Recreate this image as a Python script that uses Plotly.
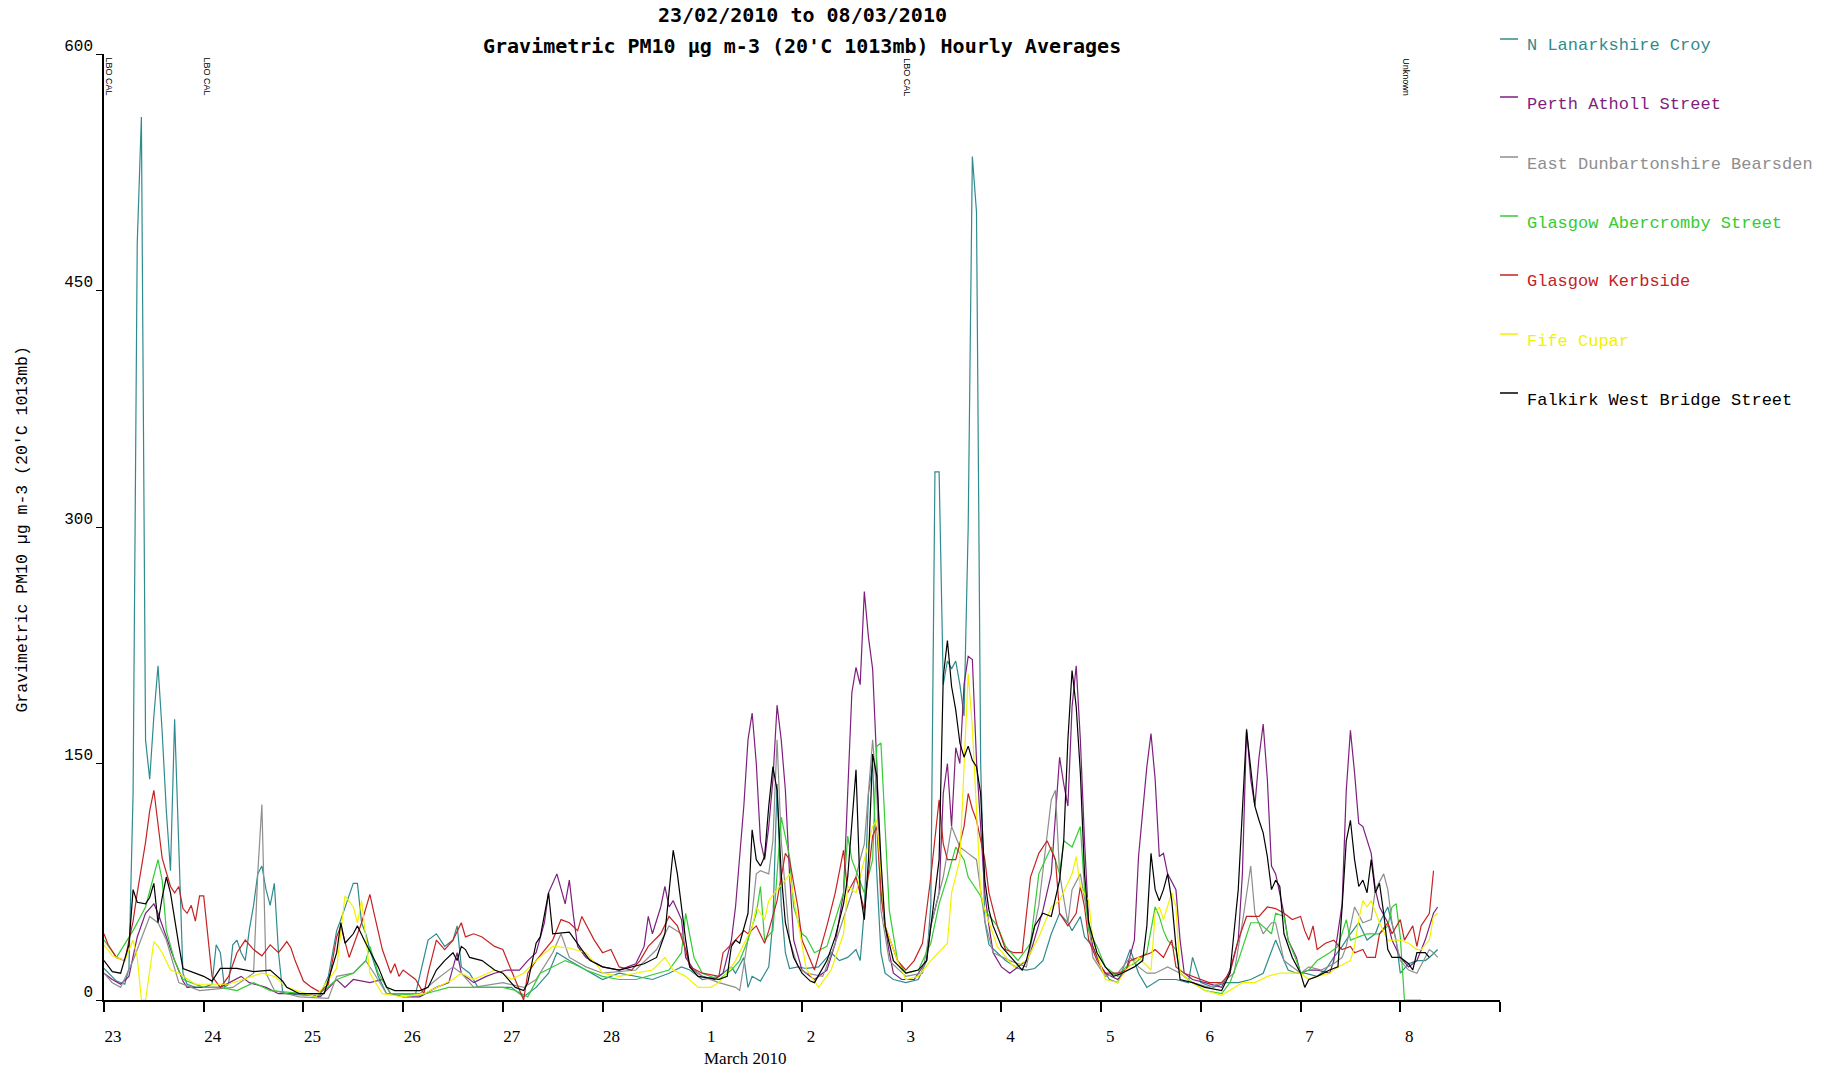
import plotly.graph_objects as go

# ---------------- data (hours since 23/02/2010 00:00, PM10 ug m-3) ----------------
tick_hours = [0, 24, 48, 72, 96, 120, 144, 168, 192, 216, 240, 264, 288, 312, 336]
tick_labels = ["23", "24", "25", "26", "27", "28", "1", "2", "3", "4", "5", "6", "7", "8", ""]
y_ticks = [0, 150, 300, 450, 600]

croy_h = [0,3,5,6,7,8,9,10,11,12,13,14,15,16,17,18,19,20,22,24,26,27,28,29,30,31,32,33,34,35,36,37,38,39,40,41,42,43,44,48,52,54,56,57,60,61,62,63,64,66,68,72,75,78,80,82,84,85,86,88,90,94,98,101,104,107,109,112,116,120,124,128,132,136,139,141,144,148,151,152,154,155,156,158,160,161,162,163,164,165,167,169,172,175,177,179,181,182,183,184,185,186,187,188,190,193,196,198,199,200,201,202,203,204,205,206,207,208,209,210,211,212,213,215,217,220,222,224,226,228,230,232,233,235,236,238,240,242,244,247,249,251,254,258,261,262,264,267,270,273,276,279,282,284,285,287,289,292,294,296,298,300,302,304,306,307,309,311,312,314,316,318,319,321]
croy_v = [20,12,10,20,131,480,560,165,140,180,212,170,120,82,178,100,17,10,8,8,10,35,30,8,10,35,38,30,25,45,60,80,85,70,60,74,30,5,4,3,3,15,44,51,74,74,49,42,32,15,4,4,4,38,42,34,38,47,21,17,8,8,8,2,8,17,30,25,19,13,17,15,13,17,21,19,13,15,21,17,27,8,15,12,21,50,137,60,30,20,21,20,21,30,25,27,32,25,57,131,150,80,30,17,13,11,13,25,60,335,335,200,215,210,215,200,180,300,535,500,150,50,35,30,25,20,19,20,25,42,55,49,44,53,40,34,21,13,11,32,17,8,13,13,11,27,11,8,11,11,13,17,38,25,19,17,17,15,19,27,34,42,49,38,42,49,59,38,17,23,25,25,27,32]

perth_h = [0,2,4,6,8,10,12,13,15,17,19,20,24,28,33,35,39,42,48,52,56,58,60,64,67,69,72,76,80,83,85,86,89,92,94,97,100,102,104,106,107,109,111,112,113,114,116,120,124,128,130,131,132,134,135,136,137,139,140,142,144,147,149,151,152,154,155,156,157,158,159,160,161,162,163,164,165,166,168,171,174,176,178,179,180,181,182,183,184,185,186,187,188,189,190,192,195,198,199,201,202,203,204,205,206,207,208,209,210,211,212,213,214,216,218,220,222,223,225,226,228,230,231,232,233,234,235,236,237,238,240,241,244,246,248,249,251,252,253,254,255,256,258,259,260,262,265,269,271,273,274,275,276,277,278,279,280,281,282,284,285,287,288,290,292,295,296,298,299,300,301,302,303,305,306,307,309,310,312,314,316,318,320,321]
perth_v = [17,13,10,15,40,55,61,55,40,25,12,8,8,8,15,11,8,4,4,2,13,8,13,11,13,4,2,2,8,11,30,17,11,15,17,19,19,25,30,49,68,80,61,76,53,34,27,21,19,23,34,53,42,59,72,59,63,51,27,19,15,13,17,38,59,123,165,182,150,101,89,110,140,187,165,133,80,38,19,13,19,36,68,131,195,211,200,259,230,210,150,68,47,30,17,13,13,25,47,68,131,150,110,160,150,200,218,216,152,110,68,47,30,21,17,21,25,30,47,57,80,154,137,123,186,212,165,101,49,34,21,17,13,19,38,91,148,169,140,91,93,80,70,38,17,13,11,8,19,38,80,172,140,123,154,175,140,85,80,55,38,27,17,19,19,17,25,61,133,171,144,112,110,93,70,59,49,38,27,21,25,38,55,59]

bears_h = [0,2,4,7,11,13,15,18,23,31,36,37,38,39,41,47,54,56,60,63,65,68,76,80,84,86,89,96,101,104,108,110,112,116,120,128,133,136,139,141,144,148,152,153,156,157,158,160,161,162,163,165,167,169,173,176,178,180,182,183,185,186,187,189,193,197,199,202,204,206,208,210,212,214,218,222,225,228,229,230,232,233,235,237,238,241,244,247,249,251,253,256,259,262,266,269,272,274,276,277,279,281,282,284,287,288,290,293,296,298,299,301,303,305,306,308,309,310,312,314,316,318,319,320,321]
bears_v = [17,11,8,25,53,49,38,11,6,8,17,80,124,17,6,2,1,15,17,25,17,4,4,13,21,17,8,11,8,13,30,42,27,21,17,19,32,47,42,21,15,11,8,6,55,80,82,80,101,165,101,38,21,17,15,36,52,68,89,99,165,131,57,25,15,17,47,78,110,97,93,89,50,30,25,21,60,127,133,80,49,70,80,49,27,15,17,27,21,17,17,21,17,11,8,11,17,49,85,55,42,49,49,25,19,17,21,19,23,27,34,59,49,51,70,80,70,49,25,19,17,27,32,30,27]

aber_h = [0,3,7,10,13,14,15,17,19,24,28,32,36,40,48,51,56,60,63,64,66,69,76,83,91,96,99,102,105,108,111,113,116,120,124,128,133,136,139,140,142,144,148,151,153,155,157,158,159,161,163,165,166,168,169,171,174,176,178,179,180,183,185,186,187,188,189,191,193,196,199,201,203,205,207,208,211,212,215,217,220,223,225,228,230,231,233,235,236,237,239,241,244,246,248,251,253,254,255,256,258,259,262,265,269,271,273,276,278,281,282,284,285,287,288,290,292,295,297,299,300,302,304,307,309,310,311,312,313,317]
aber_v = [38,27,44,59,89,76,44,25,13,8,8,6,11,6,4,2,13,17,25,34,17,4,3,8,8,8,6,2,17,21,25,23,19,15,13,13,17,19,30,55,27,17,13,19,25,38,55,72,38,44,116,91,59,42,40,30,34,51,68,104,89,68,89,161,163,110,57,25,17,19,36,61,78,97,89,78,66,57,47,34,25,36,80,97,80,101,97,110,70,44,34,21,15,21,23,30,59,53,44,38,32,17,11,6,4,11,25,49,49,42,55,53,38,25,17,19,25,30,34,51,38,40,42,42,47,59,61,40,0,0]

kerb_h = [0,1,3,5,7,8,10,11,12,13,14,16,17,18,19,20,21,22,23,24,25,26,28,30,32,34,36,38,40,42,44,45,46,48,50,52,54,56,57,59,62,64,65,67,69,70,71,72,75,77,78,80,82,84,86,87,89,91,94,96,98,99,101,102,104,108,110,112,114,115,118,120,122,124,127,129,131,134,136,138,140,141,144,148,149,152,154,155,157,159,160,162,164,165,167,168,170,171,174,176,178,179,181,183,185,186,187,188,191,193,195,197,199,201,202,203,205,207,208,209,210,212,213,215,217,219,221,223,225,227,229,230,232,234,235,236,237,239,241,244,246,247,249,252,253,255,257,258,260,262,266,269,271,273,275,278,280,282,284,286,288,289,290,291,292,294,296,298,300,301,303,304,306,307,309,310,312,313,315,316,317,319,320]
kerb_v = [42,35,27,25,50,68,100,120,133,110,90,72,68,72,58,55,60,50,66,66,40,15,8,15,30,38,32,28,35,30,37,33,25,12,8,5,10,40,47,27,49,67,55,32,17,23,15,19,13,4,17,38,32,38,49,40,42,40,34,32,19,13,0,17,25,38,51,49,44,53,38,30,32,21,19,25,34,42,53,47,32,21,17,15,30,38,44,42,47,36,44,63,93,89,59,38,25,19,47,68,95,68,78,57,104,110,68,47,25,19,25,36,78,127,99,89,89,110,131,121,114,89,68,47,32,30,30,78,93,101,89,55,47,55,72,59,38,25,17,17,19,25,27,30,32,27,38,21,17,15,11,11,17,38,53,53,59,58,55,51,53,44,38,47,32,36,38,32,34,30,32,27,27,42,49,42,51,38,47,34,47,55,82]

fife_h = [0,2,5,7,8,9,10,11,12,13,14,16,18,22,30,38,41,44,51,56,58,60,61,62,63,64,67,72,77,80,84,86,89,94,96,98,101,104,108,112,116,119,120,124,128,132,135,137,140,143,146,148,151,152,156,157,159,160,162,164,165,167,169,172,175,178,179,181,183,185,186,187,188,191,193,196,199,203,204,206,207,208,209,210,211,212,215,219,222,225,228,230,233,234,235,237,238,240,241,244,246,249,252,253,254,255,257,258,259,262,265,269,271,274,277,280,283,285,288,290,292,295,297,300,301,302,303,304,305,307,309,310,312,314,316,317,319,320,321]
fife_v = [35,28,25,38,27,0,0,17,37,34,30,19,17,10,10,17,15,8,2,20,66,59,49,63,38,17,4,2,4,8,13,17,13,19,17,13,17,25,34,33,30,21,17,15,17,19,27,19,15,8,8,11,21,25,46,59,51,63,70,76,80,50,20,8,19,42,72,68,89,110,114,78,47,25,13,15,25,36,68,89,150,207,173,121,68,57,34,21,25,40,59,63,80,91,72,63,38,21,13,11,19,27,19,55,59,51,68,59,17,11,6,3,6,11,11,15,17,17,17,13,15,17,21,25,34,51,63,59,63,49,38,38,38,36,32,32,38,53,55]

falk_h = [0,2,4,6,7,8,10,11,12,13,14,15,16,17,18,19,21,24,26,28,32,36,40,43,44,47,53,56,57,58,60,61,63,66,68,70,76,78,80,82,84,85,86,87,88,91,94,96,99,101,102,104,105,107,108,112,115,117,120,124,130,133,135,136,137,138,139,140,141,143,148,150,151,152,153,155,156,157,158,159,160,161,162,163,164,166,168,170,171,174,176,178,179,180,181,182,183,184,185,186,187,188,190,193,196,198,199,201,202,203,204,205,206,207,208,209,210,211,212,213,214,216,219,221,222,224,226,228,230,231,232,233,234,235,236,237,239,241,243,245,248,250,251,252,253,254,255,256,257,258,259,262,265,269,271,273,275,276,277,278,279,280,281,282,283,284,286,288,289,290,292,295,297,298,299,300,301,302,303,304,305,306,307,308,309,310,312,314,315,316,318,319]
falk_v = [25,18,17,35,70,62,61,65,74,49,65,78,68,50,35,20,18,15,12,20,20,18,19,12,8,4,4,30,49,36,42,47,36,21,8,6,6,8,19,25,30,25,34,32,27,25,19,17,8,6,11,36,40,68,42,43,32,25,21,19,23,27,42,70,95,80,59,38,21,15,13,15,34,38,36,55,108,89,85,91,123,148,133,80,49,27,17,12,11,25,40,61,78,110,146,68,51,89,156,142,89,47,25,17,19,25,47,89,205,228,199,184,163,154,161,152,148,131,76,57,47,34,25,19,25,47,55,53,76,101,165,209,186,144,80,49,30,21,15,17,21,25,47,93,70,63,70,80,63,34,13,11,8,6,17,70,171,148,123,114,106,91,70,76,72,42,27,17,8,13,15,19,21,59,101,114,89,72,76,68,89,68,74,55,32,27,27,23,19,30,30,27]

series = [
    ("N Lanarkshire Croy", croy_h, croy_v, "#2f8b8e"),
    ("Perth Atholl Street", perth_h, perth_v, "#7e1f7e"),
    ("East Dunbartonshire Bearsden", bears_h, bears_v, "#8e8e8e"),
    ("Glasgow Abercromby Street", aber_h, aber_v, "#33cc33"),
    ("Glasgow Kerbside", kerb_h, kerb_v, "#c42323"),
    ("Fife Cupar", fife_h, fife_v, "#f2f200"),
    ("Falkirk West Bridge Street", falk_h, falk_v, "#000000"),
]

events = [(1.3, "LBO CAL"), (24.9, "LBO CAL"), (193.2, "LBO CAL"), (313.3, "Unknown")]

# ---------------- figure ----------------
W, H = 1837, 1071
L, R, T, B = 103.5, 1500, 54, 1000
pw, ph = R - L, B - T

def px(x):
    return (x - L) / pw

def py(y):
    return (B - y) / ph

fig = go.Figure()
for name, hh, vv, col in series:
    fig.add_trace(go.Scatter(x=hh, y=vv, mode="lines", name=name,
                             line=dict(color=col, width=1.2), showlegend=False))

ann = []
shapes = []
# titles
ann.append(dict(text="<b>23/02/2010 to 08/03/2010</b>", x=0.5, y=py(15), xref="paper", yref="paper",
                xanchor="center", yanchor="middle", showarrow=False,
                font=dict(family="DejaVu Sans Mono", size=20, color="#000")))
ann.append(dict(text="<b>Gravimetric PM10 µg m-3 (20'C 1013mb) Hourly Averages</b>", x=0.5, y=py(46),
                xref="paper", yref="paper", xanchor="center", yanchor="middle", showarrow=False,
                font=dict(family="DejaVu Sans Mono", size=20, color="#000")))
# y axis title
ann.append(dict(text="Gravimetric PM10 µg m-3 (20'C 1013mb)", x=px(21), y=py(530), xref="paper", yref="paper",
                xanchor="center", yanchor="middle", textangle=-90, showarrow=False,
                font=dict(family="Liberation Mono", size=16.5, color="#000")))
# x axis title
ann.append(dict(text="March 2010", x=144, y=py(1058), xref="x", yref="paper", xanchor="left", yanchor="middle",
                showarrow=False, font=dict(family="Liberation Serif", size=17, color="#000")))
# event markers
for eh, txt in events:
    ann.append(dict(text=txt, x=eh, y=py(56), xref="x", yref="paper", xanchor="center", yanchor="top",
                    textangle=90, showarrow=False, font=dict(family="Liberation Sans", size=9, color="#000")))
# legend
leg_text_y = [46, 104, 164, 223, 282, 341, 400]
for i, (name, hh, vv, col) in enumerate(series):
    ty = leg_text_y[i]
    ann.append(dict(text=name, x=px(1525), y=py(ty), xref="paper", yref="paper", xanchor="left",
                    yanchor="middle", showarrow=False, font=dict(family="Liberation Mono", size=17, color=col)))
    shapes.append(dict(type="line", xref="paper", yref="paper", x0=px(1500), x1=px(1518),
                       y0=py(ty - 7), y1=py(ty - 7), line=dict(color=col, width=1.5)))

fig.update_layout(
    width=W, height=H,
    margin=dict(l=L, r=W - R, t=T, b=H - B, pad=0),
    paper_bgcolor="white", plot_bgcolor="white",
    annotations=ann, shapes=shapes,
    xaxis=dict(range=[0, 336], tickvals=tick_hours, ticktext=tick_labels, showgrid=False, zeroline=False,
               showline=True, linecolor="#000", linewidth=1.5, ticks="outside", ticklen=10, tickwidth=1.5,
               tickcolor="#000", ticklabelstandoff=10, ticklabelshift=9,
               tickfont=dict(family="Liberation Serif", size=17, color="#000")),
    yaxis=dict(range=[0, 600], tickvals=y_ticks, showgrid=False, zeroline=False,
               showline=True, linecolor="#000", linewidth=1.5, ticks="outside", ticklen=6, tickwidth=1.2,
               tickcolor="#000", ticklabelshift=-9,
               tickfont=dict(family="Liberation Mono", size=16, color="#000")),
)

fig.write_html("out.html", config={"displayModeBar": False},
               post_script="document.body.style.margin='0';document.body.style.overflow='hidden';")
